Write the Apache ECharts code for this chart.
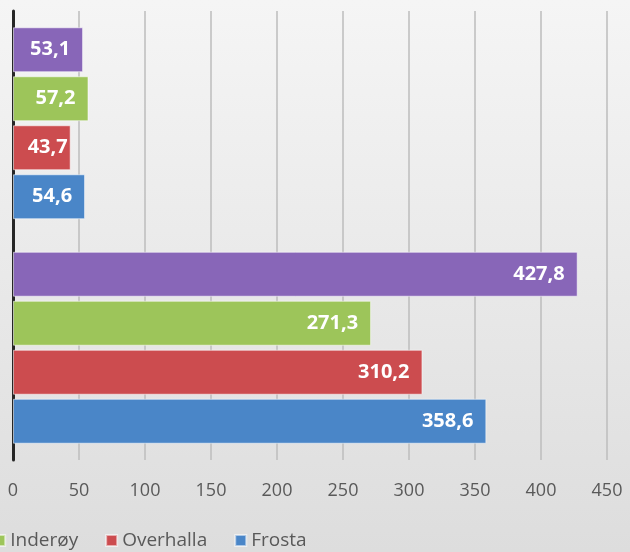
<!DOCTYPE html>
<html>
<head>
<meta charset="utf-8">
<script src="https://cdn.jsdelivr.net/npm/echarts@6/dist/echarts.min.js"></script>
<style>
  html, body { margin: 0; padding: 0; }
  #chart { width: 630px; height: 552px; }
</style>
</head>
<body>
<div id="chart"></div>
<script>
var categories = ['B', 'A']
var seriesNames = ['Landet', 'Inderøy', 'Overhalla', 'Frosta']
var landet = [427.8, 53.1]
var inderoy = [271.3, 57.2]
var overhalla = [310.2, 43.7]
var frosta = [358.6, 54.6]
var xTicks = [0, 50, 100, 150, 200, 250, 300, 350, 400, 450]
var colors = ['#8866b8', '#9dc55a', '#cc4c4f', '#4a86c8']

var chart = echarts.init(document.getElementById('chart'))

// short bars: excel keeps the label inside, so pull it toward the end
function labelFor(v) {
  if (v < 50) {
    return { distance: 3 }
  }
  return {}
}

function makeSeries(name, values, color) {
  return {
    name: name,
    type: 'bar',
    data: values.map(function (v) {
      return { value: v, label: labelFor(v) }
    }),
    barGap: '9%',
    barCategoryGap: '14.5%',
    itemStyle: {
      color: color,
      borderColor: 'rgba(255,255,255,0.55)',
      borderWidth: 1
    },
    label: {
      show: true,
      position: 'insideRight',
      distance: 13,
      color: '#fff',
      fontFamily: 'Open Sans',
      fontWeight: 'bold',
      fontSize: 20,
      formatter: function (p) {
        return String(p.value).replace('.', ',')
      }
    }
  }
}

chart.setOption({
  backgroundColor: {
    type: 'linear', x: 0, y: 0, x2: 0, y2: 1,
    colorStops: [
      { offset: 0, color: '#f5f5f5' },
      { offset: 1, color: '#dddddd' }
    ]
  },
  animation: false,
  color: colors,
  grid: {
    left: 13,
    right: 23,
    top: 11,
    bottom: 92,
    containLabel: false
  },
  legend: {
    bottom: -3,
    left: -117,
    itemWidth: 11,
    itemHeight: 11,
    itemGap: 27,
    icon: 'rect',
    textStyle: { fontFamily: 'Open Sans', fontSize: 19, color: '#595959' },
    data: seriesNames
  },
  xAxis: {
    type: 'value',
    min: 0,
    max: 450,
    interval: 50,
    axisLine: { show: false },
    axisTick: { show: false },
    splitLine: {
      show: true,
      lineStyle: { color: '#bdbdbd', width: 1.5 }
    },
    axisLabel: {
      margin: 22,
      fontFamily: 'Open Sans',
      fontSize: 18,
      color: '#595959',
      customValues: xTicks
    }
  },
  yAxis: {
    type: 'category',
    data: categories,
    axisLine: { show: true, lineStyle: { color: '#262626', width: 3 } },
    axisTick: { show: false },
    axisLabel: { show: false }
  },
  series: [
    makeSeries(seriesNames[0], landet, colors[0]),
    makeSeries(seriesNames[1], inderoy, colors[1]),
    makeSeries(seriesNames[2], overhalla, colors[2]),
    makeSeries(seriesNames[3], frosta, colors[3])
  ]
})
</script>
</body>
</html>
